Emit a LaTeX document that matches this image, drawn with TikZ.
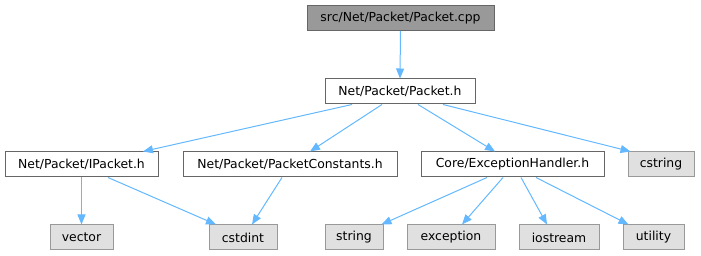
\documentclass[tikz,border=0pt]{standalone}
\usepackage{fontspec}
\setmainfont{DejaVu Sans}
\usetikzlibrary{arrows.meta,calc}
\definecolor{edgeblue}{HTML}{63B8FF}
\definecolor{bordergray}{HTML}{666666}
\definecolor{rootfill}{HTML}{999999}
\definecolor{sysfill}{HTML}{E0E0E0}
\definecolor{sysborder}{HTML}{999999}
\begin{document}
\begin{tikzpicture}[x=0.75pt,y=-0.75pt,
  box/.style={draw=bordergray,fill=white,line width=0.75pt,inner sep=0pt,minimum height=18.75pt,font=\fontsize{9.3}{11}\selectfont},
  rootbox/.style={box,fill=rootfill},
  sysbox/.style={box,draw=sysborder,fill=sysfill},
  edge/.style={draw=edgeblue,line width=0.75pt,-{Triangle[length=7.5pt,width=6pt]}}]
\useasboundingbox (0,0) rectangle (701,256);
\node[rootbox,minimum width=140.25pt] (root) at (400.5,18) {src/Net/Packet/Packet.cpp};
\node[box,minimum width=112.5pt] (pkt) at (400,91.5) {Net/Packet/Packet.h};
\node[box,minimum width=114.75pt] (ipk) at (81.5,164.5) {Net/Packet/IPacket.h};
\node[box,minimum width=160.5pt] (pc) at (290,164.5) {Net/Packet/PacketConstants.h};
\node[box,minimum width=137.25pt] (eh) at (512.5,164.5) {Core/ExceptionHandler.h};
\node[sysbox,minimum width=49.5pt] (cstr) at (661,164.5) {cstring};
\node[sysbox,minimum width=47.25pt] (vec) at (81.5,237.5) {vector};
\node[sysbox,minimum width=51pt] (cstd) at (243,237.5) {cstdint};
\node[sysbox,minimum width=43.5pt] (str) at (354,237.5) {string};
\node[sysbox,minimum width=66pt] (exc) at (451,237.5) {exception};
\node[sysbox,minimum width=60pt] (ios) at (559,237.5) {iostream};
\node[sysbox,minimum width=45.75pt] (util) at (653.5,237.5) {utility};
\draw[edge] (root.south) -- (pkt.north);
\draw[edge] ($(pkt.south)+(-48,0)$) -- ($(ipk.north)+(61.5,0)$);
\draw[edge] ($(pkt.south)+(-18,0)$) -- ($(pc.north)+(20,0)$);
\draw[edge] ($(pkt.south)+(18,0)$) -- ($(eh.north)+(-17.5,0)$);
\draw[edge] ($(pkt.south)+(43,0)$) -- ($(cstr.north west)+(3,0)$);
\draw[edge] (ipk.south) -- (vec.north);
\draw[edge] ($(ipk.south)+(26.5,0)$) -- ($(cstd.north)+(-27,0)$);
\draw[edge] ($(pc.south)+(-8,0)$) -- ($(cstd.north)+(9,0)$);
\draw[edge] ($(eh.south)+(-25.5,0)$) -- ($(str.north east)+(-2,0)$);
\draw[edge] ($(eh.south)+(-9.5,0)$) -- ($(exc.north)+(11,0)$);
\draw[edge] ($(eh.south)+(8.5,0)$) -- ($(ios.north)+(-12,0)$);
\draw[edge] ($(eh.south)+(23.5,0)$) -- ($(util.north)+(-25,0)$);
\end{tikzpicture}
\end{document}
